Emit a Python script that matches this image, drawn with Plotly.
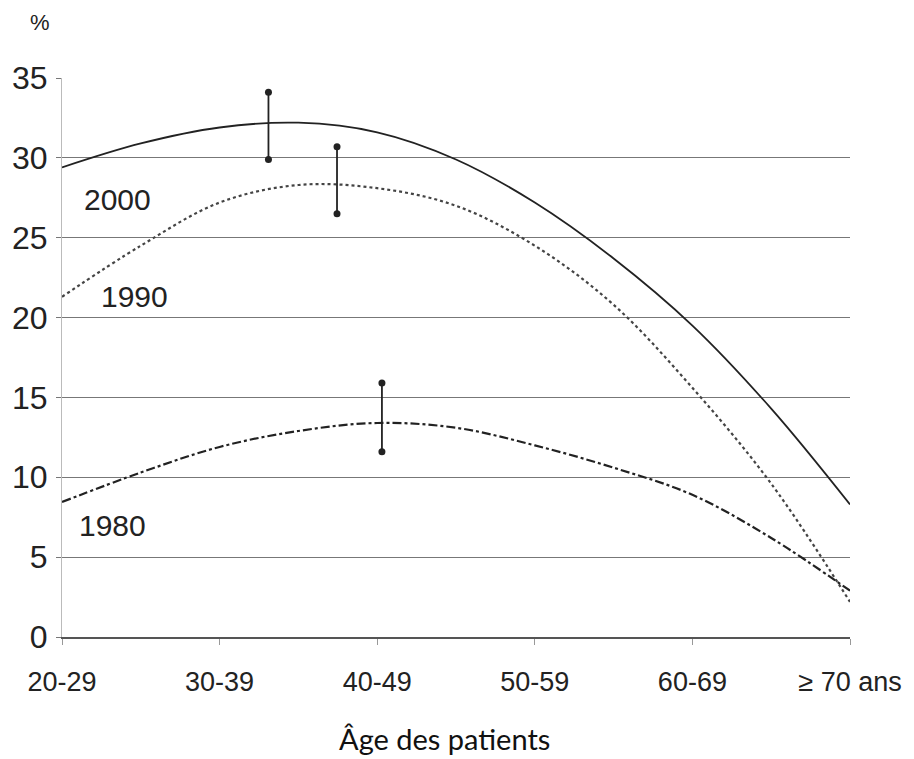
import plotly.graph_objects as go

age_labels = ["20-29", "30-39", "40-49", "50-59", "60-69", "\u2265 70 ans"]
x_pos = [0, 0.5, 1, 1.5, 2, 2.5, 3, 3.5, 4, 4.5, 5]

y2000 = [29.4, 30.9, 31.9, 32.2, 31.6, 29.9, 27.2, 23.7, 19.5, 14.3, 8.3]
y1990 = [21.3, 24.5, 27.2, 28.3, 28.1, 27.0, 24.5, 20.8, 15.6, 9.6, 2.2]
y1980 = [8.45, 10.3, 11.9, 12.9, 13.4, 13.1, 12.0, 10.6, 8.9, 6.2, 2.9]

err_x = [1.31, 1.745, 2.03]
err_low = [29.9, 26.5, 11.6]
err_high = [34.1, 30.7, 15.9]

series_names = ["2000", "1990", "1980"]
label_x = [0.35, 0.46, 0.32]
label_y = [27.4, 21.3, 7.0]

FONT = "Liberation Sans, Arial, sans-serif"

fig = go.Figure()
fig.add_trace(go.Scatter(x=x_pos, y=y2000, mode="lines", line=dict(color="#222", width=1.8, shape="spline"), name="2000"))
fig.add_trace(go.Scatter(x=x_pos, y=y1990, mode="lines", line=dict(color="#444", width=2.2, dash="dot", shape="spline"), name="1990"))
fig.add_trace(go.Scatter(x=x_pos, y=y1980, mode="lines", line=dict(color="#222", width=2.2, dash="dashdot", shape="spline"), name="1980"))

for xe, lo, hi in zip(err_x, err_low, err_high):
    fig.add_trace(go.Scatter(x=[xe, xe], y=[lo, hi], mode="lines+markers",
                             line=dict(color="#222", width=1.8),
                             marker=dict(color="#222", size=7), showlegend=False))

for name, lx, ly in zip(series_names, label_x, label_y):
    fig.add_annotation(x=lx, y=ly, text=name, showarrow=False,
                       font=dict(family=FONT, size=30, color="#222"))

fig.add_annotation(xref="paper", yref="paper", x=-0.028, y=1.1, xanchor="center", yanchor="middle",
                   text="%", showarrow=False, font=dict(family=FONT, size=22, color="#222"))

fig.add_annotation(xref="paper", yref="paper", x=0.485, y=-0.182, xanchor="center", yanchor="middle",
                   text="\u00c2ge des patients", showarrow=False,
                   font=dict(family="Lato, Open Sans, sans-serif", size=29, color="#111"))

fig.update_layout(
    width=906, height=751,
    margin=dict(l=54, r=64, t=70, b=122),
    paper_bgcolor="white", plot_bgcolor="white",
    showlegend=False,
    xaxis=dict(range=[0, 5], tickvals=list(range(6)), ticktext=age_labels, automargin=False,
               showgrid=False, zeroline=False, showline=True, linecolor="#555", linewidth=1.5,
               ticks="outside", ticklen=6, tickwidth=1.2, tickcolor="#999", ticklabelstandoff=14,
               tickfont=dict(family=FONT, size=27, color="#222")),
    yaxis=dict(range=[0, 35], tickvals=[0, 5, 10, 15, 20, 25, 30, 35], automargin=False,
               showgrid=True, gridcolor="#777", gridwidth=1.2, zeroline=False,
               showline=True, linecolor="#bbb", linewidth=1,
               ticks="outside", ticklen=5, tickcolor="#777", ticklabelstandoff=2,
               tickfont=dict(family=FONT, size=32, color="#222")),
)

fig.write_html("out.html")
